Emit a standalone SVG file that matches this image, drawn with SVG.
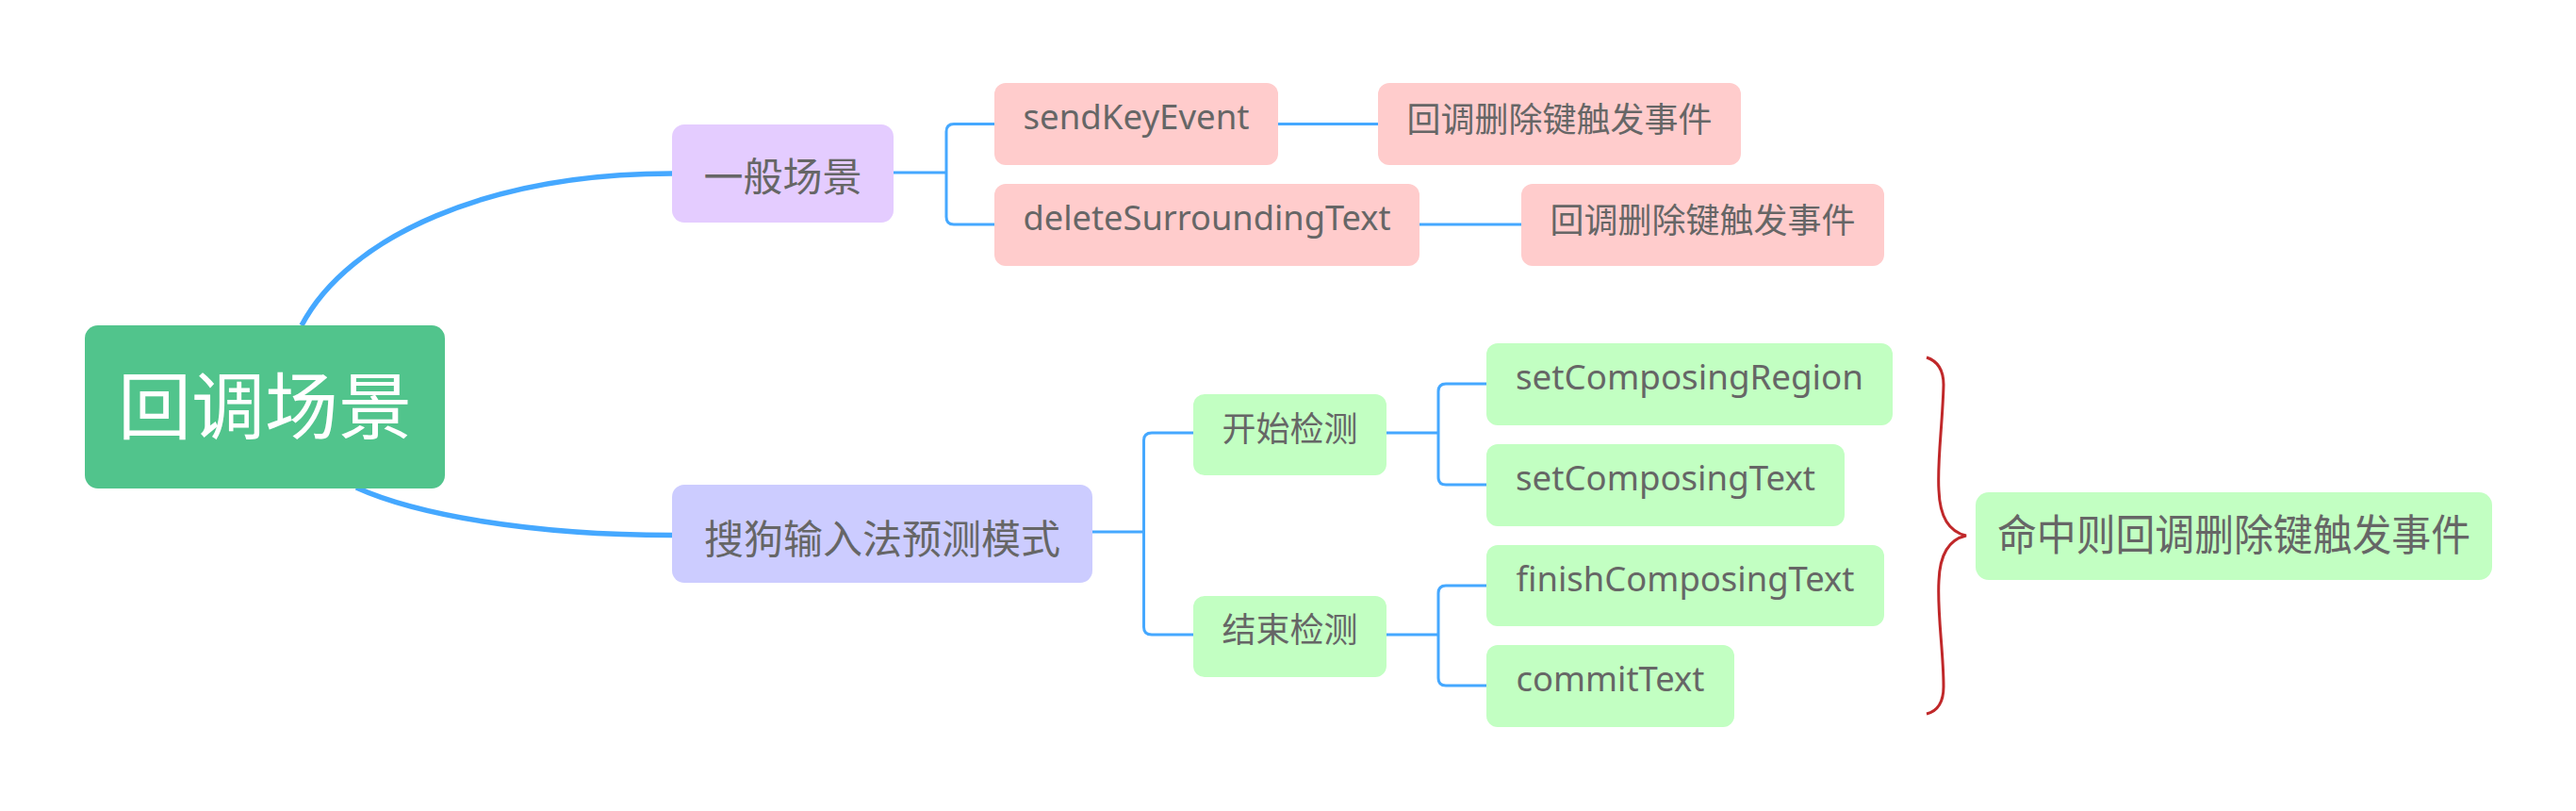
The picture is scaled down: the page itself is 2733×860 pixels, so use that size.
<svg xmlns="http://www.w3.org/2000/svg" width="2733" height="860" viewBox="0 0 2733 860">
<style>
.t{font-family:"Noto Sans","Noto Sans CJK SC",sans-serif;fill:#666666;text-anchor:middle}
.s36{font-size:36px}
.s42{font-size:42px}
.conn{fill:none;stroke:#45A8FF;stroke-linecap:butt;stroke-linejoin:round}
.main{stroke-width:5.5}
.fork{stroke-width:3}
.pink{fill:#FFCCCC}
.green{fill:#C2FFC2}
</style>
<rect x="0" y="0" width="2733" height="860" fill="#FFFFFF"/>
<g id="connectors">
<path class="conn main" d="M320,345 C370,250 520,184 713,184"/>
<path class="conn main" d="M378,517 C440,545 560,567.5 713,567.5"/>
<path class="conn fork" d="M948,183 H1004"/>
<path class="conn fork" d="M1055,131.5 H1012 Q1004,131.5 1004,139.5 V230 Q1004,238 1012,238 H1055"/>
<path class="conn fork" d="M1356,131.5 H1462"/>
<path class="conn fork" d="M1506,238 H1614"/>
<path class="conn fork" d="M1159,564 H1213.5"/>
<path class="conn fork" d="M1266,459 H1222 Q1213.5,459 1213.5,467 V665 Q1213.5,673 1222,673 H1266"/>
<path class="conn fork" d="M1471,459 H1526"/>
<path class="conn fork" d="M1577,407 H1534 Q1526,407 1526,415 V506 Q1526,514 1534,514 H1577"/>
<path class="conn fork" d="M1471,673 H1526"/>
<path class="conn fork" d="M1577,621 H1534 Q1526,621 1526,629 V719 Q1526,727 1534,727 H1577"/>
<path id="brace" d="M2044,379 C2056,383 2062,392 2062,408 C2061,450 2055,490 2057,520 C2058,548 2068,564 2086,568 C2068,572 2058,588 2057,616 C2055,650 2062,690 2062,728 C2062,745 2056,754 2044,757" fill="none" stroke="#C0282A" stroke-width="3"/>
</g>
<g id="root">
<rect x="90" y="345" width="382" height="173" rx="14" fill="#51C48C"/>
<text x="281" y="460" class="t" style="font-size:78px;fill:#FFFFFF">回调场景</text>
</g>
<g id="general">
<rect x="713" y="132" width="235" height="104" rx="13" fill="#E4CCFF"/>
<text x="830.5" y="203" class="t s42">一般场景</text>
</g>
<g id="sogou">
<rect x="713" y="514" width="446" height="104" rx="13" fill="#CCCCFF"/>
<text x="936" y="587" class="t s42">搜狗输入法预测模式</text>
</g>
<g id="sendKeyEvent">
<rect x="1055" y="88" width="301" height="87" rx="12" class="pink"/>
<text x="1205.5" y="137" class="t s36" textLength="240" lengthAdjust="spacingAndGlyphs">sendKeyEvent</text>
</g>
<g id="result1">
<rect x="1462" y="88" width="385" height="87" rx="12" class="pink"/>
<text x="1654.5" y="139.5" class="t s36">回调删除键触发事件</text>
</g>
<g id="deleteSurroundingText">
<rect x="1055" y="195" width="451" height="87" rx="12" class="pink"/>
<text x="1280.5" y="244" class="t s36" textLength="390" lengthAdjust="spacingAndGlyphs">deleteSurroundingText</text>
</g>
<g id="result2">
<rect x="1614" y="195" width="385" height="87" rx="12" class="pink"/>
<text x="1806.5" y="246.5" class="t s36">回调删除键触发事件</text>
</g>
<g id="startDetect">
<rect x="1266" y="418" width="205" height="86" rx="12" class="green"/>
<text x="1368.5" y="467.5" class="t s36">开始检测</text>
</g>
<g id="endDetect">
<rect x="1266" y="632" width="205" height="86" rx="12" class="green"/>
<text x="1368.5" y="681" class="t s36">结束检测</text>
</g>
<g id="setComposingRegion">
<rect x="1577" y="364" width="431" height="87" rx="12" class="green"/>
<text x="1792.5" y="413" class="t s36" textLength="369" lengthAdjust="spacingAndGlyphs">setComposingRegion</text>
</g>
<g id="setComposingText">
<rect x="1577" y="471" width="380" height="87" rx="12" class="green"/>
<text x="1767" y="520" class="t s36" textLength="318" lengthAdjust="spacingAndGlyphs">setComposingText</text>
</g>
<g id="finishComposingText">
<rect x="1577" y="578" width="422" height="86" rx="12" class="green"/>
<text x="1788" y="627" class="t s36" textLength="359" lengthAdjust="spacingAndGlyphs">finishComposingText</text>
</g>
<g id="commitText">
<rect x="1577" y="684" width="263" height="87" rx="12" class="green"/>
<text x="1708.5" y="733" class="t s36" textLength="200" lengthAdjust="spacingAndGlyphs">commitText</text>
</g>
<g id="summary">
<rect x="2096" y="522" width="548" height="93" rx="14" class="green"/>
<text x="2370" y="584" class="t" style="font-size:45px" textLength="502" lengthAdjust="spacingAndGlyphs">命中则回调删除键触发事件</text>
</g>
</svg>
